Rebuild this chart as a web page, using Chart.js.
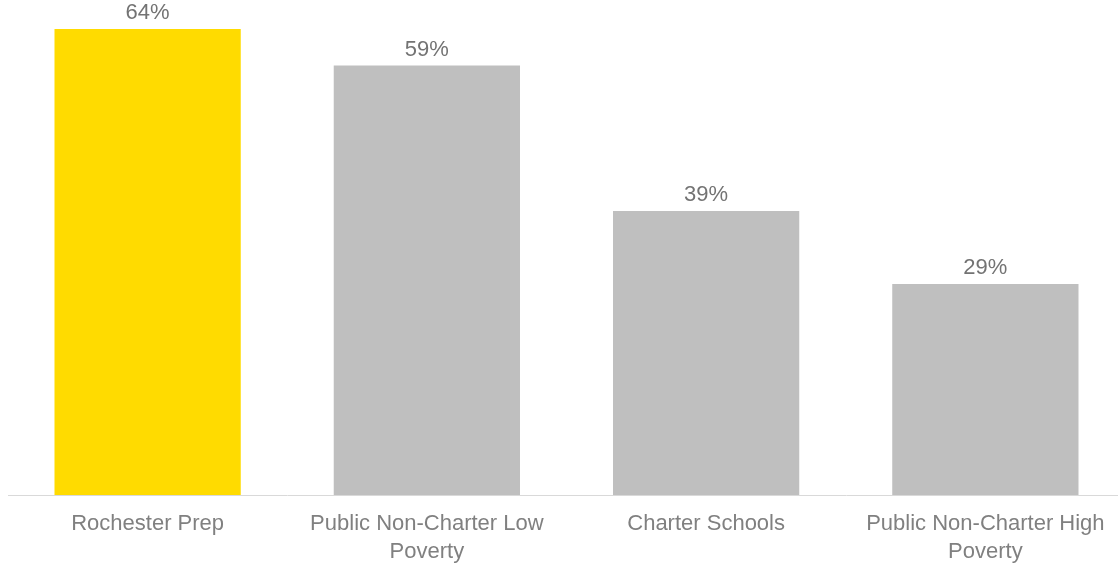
<!DOCTYPE html>
<html>
<head>
<meta charset="utf-8">
<script src="https://cdn.jsdelivr.net/npm/chart.js@4"></script>
<style>
    html, body { margin: 0; padding: 0; background: #ffffff; overflow: hidden; }
    #wrap { width: 1125px; height: 564px; }
</style>
</head>
<body>
<div id="wrap"><canvas id="barChart"></canvas></div>
<script>
const categories = [
    'Rochester Prep',
    ['Public Non-Charter Low', 'Poverty'],
    'Charter Schools',
    ['Public Non-Charter High', 'Poverty']
];
const values = [64, 59, 39, 29];
const barColors = ['#ffdb00', '#bfbfbf', '#bfbfbf', '#bfbfbf'];

const fontFamily = '"Liberation Sans", Arial, sans-serif';

const valueLabels = {
    id: 'valueLabels',
    afterDatasetsDraw(chart) {
        const ctx = chart.ctx;
        const meta = chart.getDatasetMeta(0);
        ctx.save();
        ctx.fillStyle = '#737373';
        ctx.font = '22px ' + fontFamily;
        ctx.textAlign = 'center';
        ctx.textBaseline = 'bottom';
        meta.data.forEach((bar, i) => {
            ctx.fillText(values[i] + '%', bar.x, bar.y - 5);
        });
        ctx.restore();
    }
};

const ctx = document.getElementById('barChart').getContext('2d');
new Chart(ctx, {
    type: 'bar',
    data: {
        labels: categories,
        datasets: [{
            data: values,
            backgroundColor: barColors,
            borderWidth: 0,
            barPercentage: 0.667,
            categoryPercentage: 1
        }]
    },
    options: {
        responsive: true,
        maintainAspectRatio: false,
        animation: false,
        layout: { padding: { left: 8, right: 0, top: 0, bottom: 0 } },
        plugins: {
            legend: { display: false },
            tooltip: { enabled: false }
        },
        scales: {
            x: {
                grid: { display: false },
                border: { display: true, color: '#d9d9d9', width: 1 },
                ticks: {
                    color: '#808080',
                    padding: 7,
                    maxRotation: 0,
                    autoSkip: false,
                    font: { family: fontFamily, size: 22, lineHeight: 1.27 }
                },
                afterFit(scale) { scale.height = 69; }
            },
            y: {
                display: false,
                min: 0,
                max: 68
            }
        }
    },
    plugins: [valueLabels]
});
</script>
</body>
</html>
